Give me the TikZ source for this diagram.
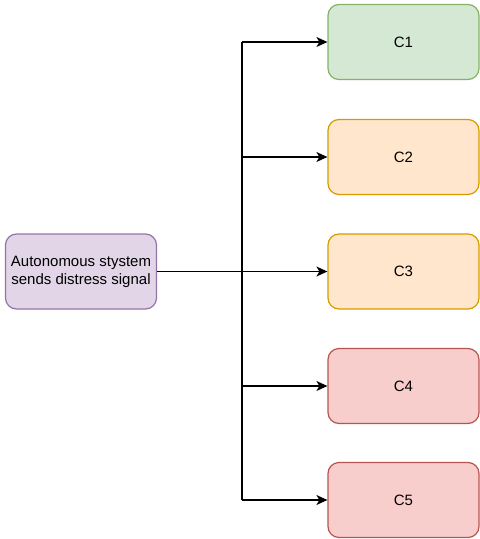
\documentclass[tikz,border=0pt]{standalone}
\usepackage{fontspec}
\setmainfont{Liberation Sans}
\usetikzlibrary{arrows.meta}

\definecolor{greenfill}{HTML}{D5E8D4}
\definecolor{greendraw}{HTML}{82B366}
\definecolor{orangefill}{HTML}{FFE6CC}
\definecolor{orangedraw}{HTML}{D79B00}
\definecolor{redfill}{HTML}{F8CECC}
\definecolor{reddraw}{HTML}{B85450}
\definecolor{purplefill}{HTML}{E1D5E7}
\definecolor{purpledraw}{HTML}{9673A6}

\tikzset{
	BoxStyle/.style = {rectangle, rounded corners=11pt, line width=1.2pt,
		minimum width=151pt, minimum height=75pt, align=center,
		font=\fontsize{15}{18}\selectfont},
	LinkStyle/.style = {line width=1.2pt, -{Stealth[length=11pt,width=10pt,inset=3pt]}}
}

\begin{document}
\begin{tikzpicture}[x=1pt,y=-1pt]
	\useasboundingbox (0,0) rectangle (480,539);
	\node[BoxStyle, fill=purplefill, draw=purpledraw] (Src) at (81,271.5) {Autonomous stystem\\sends distress signal};
	\begin{scope}
		\node[BoxStyle, fill=greenfill, draw=greendraw] (C1) at (403.5,42) {C1};
		\node[BoxStyle, fill=orangefill, draw=orangedraw] (C2) at (403.5,157) {C2};
		\node[BoxStyle, fill=orangefill, draw=orangedraw] (C3) at (403.5,271.5) {C3};
		\node[BoxStyle, fill=redfill, draw=reddraw] (C4) at (403.5,386) {C4};
		\node[BoxStyle, fill=redfill, draw=reddraw] (C5) at (403.5,500) {C5};
	\end{scope}
	\coordinate (Fork) at (242,271.5);
	\draw[line width=1.2pt] (Src.east) -- (Fork);
	\draw[line width=1.2pt] (Fork |- C1.west) -- (Fork |- C5.west);
	\foreach \c in {C1,C2,C3,C4,C5}
		\draw[LinkStyle] (Fork |- \c.west) -- (\c.west);
\end{tikzpicture}
\end{document}
